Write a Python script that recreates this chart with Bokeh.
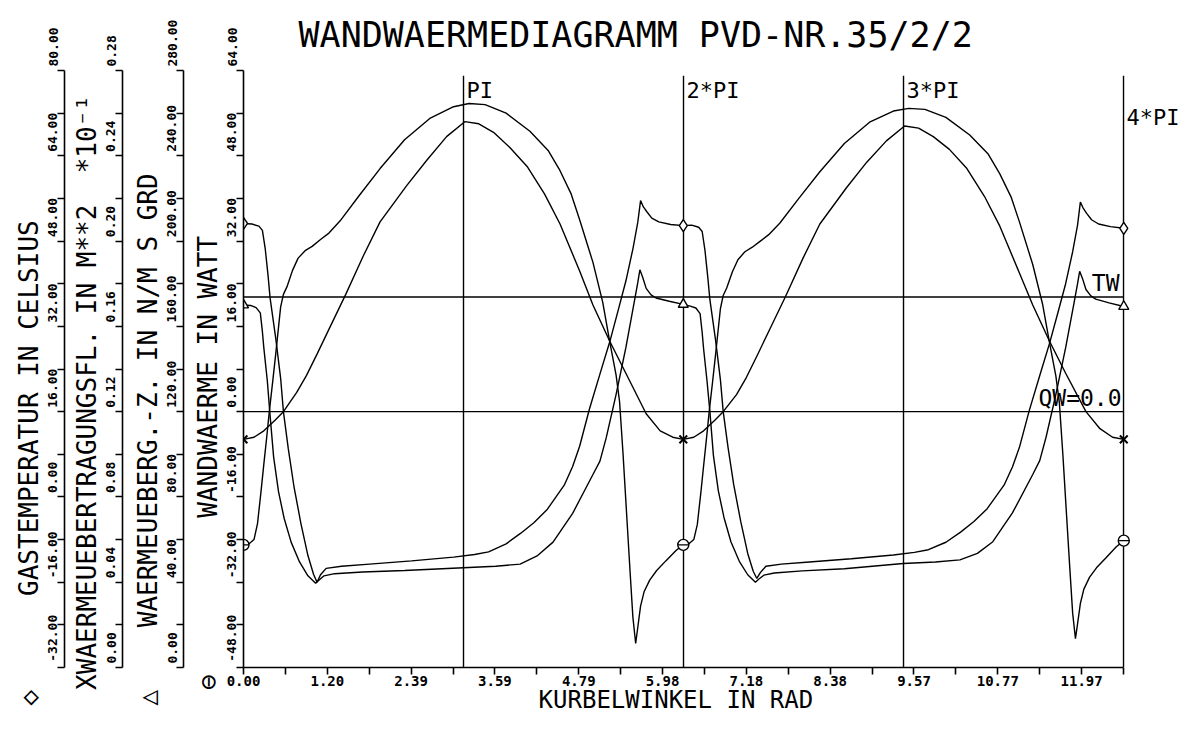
import math
from bokeh.plotting import figure
from bokeh.models import Range1d, LinearAxis, FixedTicker, Label, PrintfTickFormatter
from bokeh.embed import file_html
from bokeh.resources import INLINE

PI = math.pi
MONO = "DejaVu Sans Mono"
NB = "\u00a0"
TITLE = "WANDWAERMEDIAGRAMM PVD-NR.35/2/2"

# ---------------- axes -----------------
X_TICKS = [0.0, 1.196797, 2.393594, 3.590392, 4.787189, 5.983986,
           7.180783, 8.377580, 9.574377, 10.771174, 11.967972]
X_TICK_LABELS = ["0.00", "1.20", "2.39", "3.59", "4.79", "5.98",
                 "7.18", "8.38", "9.57", "10.77", "11.97"]
X_MINOR = [0.598399, 1.795196, 2.991993, 4.188790, 5.385587, 6.582384,
           7.779181, 8.975979, 10.172776, 11.369573, 12.566370]
X_END = 13.38          # frame continues a little past 4*PI (room for the 4*PI label)

W_TICKS = [-48, -32, -16, 0, 16, 32, 48, 64]
W_LABELS = ["-48.00", "-32.00", "-16.00", "0.00", "16.00", "32.00", "48.00", "64.00"]
W_MINOR = [-40, -24, -8, 8, 24, 40, 56]

GAS_TICKS = [-32, -16, 0, 16, 32, 48, 64, 80]
GAS_LABELS = ["-32.00", "-16.00", "0.00", "16.00", "32.00", "48.00", "64.00", "80.00"]
GAS_MINOR = [-24, -8, 8, 24, 40, 56, 72]

AREA_TICKS = [0.0, 0.04, 0.08, 0.12, 0.16, 0.20, 0.24, 0.28]
AREA_LABELS = ["0.00", "0.04", "0.08", "0.12", "0.16", "0.20", "0.24", "0.28"]
AREA_MINOR = [0.02, 0.06, 0.10, 0.14, 0.18, 0.22, 0.26]

COEF_TICKS = [0, 40, 80, 120, 160, 200, 240, 280]
COEF_LABELS = ["0.00", "40.00", "80.00", "120.00", "160.00", "200.00", "240.00", "280.00"]
COEF_MINOR = [20, 60, 100, 140, 180, 220, 260]

# ---------------- data -----------------------------------------
# Gastemperatur (deg C) - diamond
gas_x1 = [0.00, 0.12, 0.22, 0.27, 0.31, 0.35, 0.38, 0.46, 0.53, 0.57,
          0.64, 0.72, 0.82, 0.92, 1.00, 1.05, 1.10, 1.18, 1.40, 1.80,
          2.40, 3.00, 3.30, 3.50, 3.75, 3.96, 4.15, 4.34, 4.58, 4.70,
          4.80, 4.94, 5.10, 5.23, 5.35, 5.46, 5.56, 5.63, 5.67, 5.71,
          5.76, 5.83, 5.93, 6.10, 6.28]
gas_y1 = [51.3, 51.2, 50.8, 50.0, 46.6, 41.6, 37.3, 29.8, 22.3, 16.0,
          9.0, 2.0, -5.0, -11.0, -14.5, -16.0, -14.6, -13.4, -13.0, -12.6,
          -12.0, -11.3, -10.8, -10.3, -8.8, -6.8, -4.8, -2.3, 2.2, 5.7,
          9.5, 16.5, 23.5, 29.1, 35.0, 40.5, 46.5, 51.5, 55.6, 54.4,
          53.5, 52.3, 51.6, 51.1, 50.9]
gas_x2 = [6.40, 6.50, 6.55, 6.59, 6.63, 6.66, 6.74, 6.81, 6.85,
          6.92, 7.00, 7.10, 7.20, 7.28, 7.33, 7.38, 7.46, 7.68, 8.08,
          8.68, 9.28, 9.58, 9.78, 10.03, 10.24, 10.43, 10.62, 10.86, 10.98,
          11.08, 11.22, 11.38, 11.51, 11.63, 11.74, 11.84, 11.91, 11.95, 11.99,
          12.04, 12.11, 12.21, 12.38, 12.57]
gas_y2 = [51.0, 50.6, 49.8, 46.2, 41.2, 37.0, 29.5, 22.0, 16.0,
          9.2, 2.3, -4.6, -10.6, -14.0, -15.3, -14.2, -13.0, -12.6, -12.2,
          -11.6, -10.9, -10.4, -9.9, -8.5, -6.6, -4.6, -2.2, 2.2, 5.6,
          9.3, 16.2, 23.2, 28.8, 34.6, 40.0, 46.0, 51.0, 55.3, 54.2,
          53.2, 52.0, 51.2, 50.7, 50.4]

# Waermeuebergangszahl - triangle
coef_x1 = [0.00, 0.10, 0.18, 0.24, 0.27, 0.29, 0.34, 0.375, 0.43, 0.50,
           0.58, 0.68, 0.80, 0.92, 1.03, 1.08, 1.15, 1.30, 1.70, 2.30,
           3.14, 3.60, 3.95, 4.20, 4.42, 4.70, 4.99, 5.09, 5.18, 5.32,
           5.46, 5.58, 5.63, 5.66, 5.70, 5.75, 5.82, 5.89, 6.08, 6.28]
coef_y1 = [170.0, 169.8, 168.8, 166.3, 157.5, 150.0, 134.5, 120.0, 98.8, 82.5,
           70.0, 58.8, 49.5, 43.0, 39.5, 41.0, 43.0, 44.0, 44.8, 45.5,
           46.8, 47.5, 48.5, 52.5, 58.8, 72.3, 90.5, 96.8, 107.8, 128.0,
           150.0, 171.5, 180.5, 186.5, 183.0, 177.8, 174.8, 173.3, 171.8, 170.3]
coef_x2 = [6.38, 6.46, 6.52, 6.55, 6.57, 6.62, 6.66, 6.71, 6.78, 6.86,
           6.96, 7.08, 7.20, 7.31, 7.36, 7.43, 7.58, 7.98, 8.58, 9.42,
           9.88, 10.23, 10.48, 10.70, 10.98, 11.27, 11.37, 11.46, 11.60, 11.74,
           11.86, 11.91, 11.94, 11.98, 12.03, 12.10, 12.17, 12.36, 12.57]
coef_y2 = [169.5, 168.6, 166.0, 157.0, 149.5, 134.0, 120.0, 99.5, 83.0, 70.5,
           59.0, 49.8, 43.5, 40.0, 41.5, 43.3, 44.3, 45.3, 46.3, 48.8,
           49.5, 50.5, 53.5, 59.0, 72.5, 90.5, 97.0, 108.0, 128.0, 150.0,
           171.0, 180.0, 185.8, 182.5, 177.3, 174.3, 172.8, 171.0, 169.3]

# Waermeuebertragungsflaeche (m**2 *10^-1) - cross
area_x1 = [0.00, 0.15, 0.29, 0.45, 0.57, 0.76, 0.90, 1.05, 1.24, 1.46,
           1.71, 1.95, 2.33, 2.62, 2.90, 3.16, 3.36, 3.57, 3.80, 4.05,
           4.30, 4.52, 4.80, 4.99, 5.23, 5.46, 5.75, 5.95, 6.13, 6.28]
area_y1 = [0.107, 0.108, 0.111, 0.116, 0.120, 0.129, 0.137, 0.147, 0.160, 0.175,
           0.193, 0.209, 0.226, 0.238, 0.249, 0.256, 0.255, 0.251, 0.244, 0.235,
           0.222, 0.208, 0.186, 0.170, 0.153, 0.138, 0.119, 0.111, 0.108, 0.107]
area_x2 = [6.43, 6.57, 6.73, 6.85, 7.04, 7.18, 7.33, 7.52, 7.74, 7.99,
           8.23, 8.61, 8.90, 9.18, 9.44, 9.64, 9.85, 10.08, 10.33, 10.58,
           10.80, 11.08, 11.27, 11.51, 11.74, 12.03, 12.23, 12.41, 12.57]
area_y2 = [0.108, 0.111, 0.116, 0.120, 0.128, 0.136, 0.146, 0.159, 0.174, 0.192,
           0.208, 0.225, 0.237, 0.247, 0.254, 0.253, 0.249, 0.243, 0.234, 0.221,
           0.207, 0.185, 0.170, 0.153, 0.138, 0.120, 0.112, 0.108, 0.107]

# Wandwaerme (W) - circle
wall_x1 = [0.00, 0.08, 0.15, 0.20, 0.25, 0.29, 0.33, 0.37, 0.42, 0.46,
           0.53, 0.57, 0.62, 0.70, 0.78, 0.88, 0.98, 1.10, 1.22, 1.38,
           1.65, 1.95, 2.30, 2.66, 3.00, 3.22, 3.45, 3.75, 4.09, 4.35,
           4.52, 4.68, 4.80, 4.99, 5.13, 5.23, 5.32, 5.37, 5.42, 5.47,
           5.52, 5.56, 5.60, 5.63, 5.67, 5.72, 5.80, 5.90, 6.03, 6.18, 6.28]
wall_y1 = [-25.0, -24.8, -24.0, -21.0, -15.0, -9.9, -5.0, 0.2, 6.0, 10.8,
           19.6, 22.0, 23.4, 26.5, 28.8, 30.2, 31.0, 32.3, 33.5, 35.8,
           40.5, 45.6, 51.0, 55.0, 57.2, 57.8, 57.6, 56.0, 52.6, 49.0,
           45.2, 40.8, 36.0, 28.0, 20.5, 13.1, 6.9, 1.9, -8.0, -19.0,
           -30.0, -38.5, -43.5, -40.5, -36.5, -33.8, -31.6, -29.8, -28.0, -26.0, -25.0]
wall_x2 = [6.36, 6.43, 6.48, 6.53, 6.57, 6.61, 6.65, 6.70, 6.74, 6.81,
           6.85, 6.90, 6.98, 7.06, 7.16, 7.26, 7.38, 7.50, 7.66, 7.93,
           8.23, 8.58, 8.94, 9.28, 9.50, 9.73, 10.03, 10.37, 10.63, 10.80,
           10.96, 11.08, 11.27, 11.41, 11.51, 11.60, 11.65, 11.70, 11.75, 11.80,
           11.84, 11.88, 11.91, 11.95, 12.00, 12.08, 12.18, 12.31, 12.46, 12.57]
wall_y2 = [-24.8, -24.0, -21.2, -15.3, -10.2, -5.2, 0.0, 5.8, 10.6, 19.3,
           21.8, 23.2, 26.2, 28.5, 30.0, 30.8, 32.0, 33.2, 35.4, 40.0,
           45.0, 50.3, 54.3, 56.4, 56.9, 56.7, 55.2, 51.9, 48.4, 44.6,
           40.3, 35.6, 27.6, 20.2, 12.9, 6.7, 1.7, -8.0, -18.8, -29.5,
           -37.8, -42.6, -39.8, -36.0, -33.3, -31.1, -29.3, -27.5, -25.4, -24.2]

TW_GAS = 37.5          # Wandtemperatur TW (deg C, gas-temperature scale)
QW_ZERO = 0.0          # QW = 0.0 reference (W)
PI_MULTS = [1, 2, 3, 4]
PI_TEXT = ["PI", "2*PI", "3*PI", "4*PI"]
PI_LINE_TOP = 63.0
PI_LABEL_Y = [62.6, 62.6, 62.6, 57.5]

gas_x, gas_y = gas_x1 + gas_x2, gas_y1 + gas_y2
coef_x, coef_y = coef_x1 + coef_x2, coef_y1 + coef_y2
area_x, area_y = area_x1 + area_x2, area_y1 + area_y2
wall_x, wall_y = wall_x1 + wall_x2, wall_y1 + wall_y2
for a, b in [(gas_x, gas_y), (coef_x, coef_y), (area_x, area_y), (wall_x, wall_y)]:
    assert len(a) == len(b), (len(a), len(b))

def ends(xs, ys, n1):
    idx = [0, n1 - 1, len(xs) - 1]
    return [xs[i] for i in idx], [ys[i] for i in idx]

p = figure(width=1180, height=716, output_backend="svg", toolbar_location=None,
           x_range=Range1d(0, X_END), y_range=Range1d(-48, 64),
           min_border_left=243, min_border_right=0, min_border_top=70, min_border_bottom=46,
           background_fill_color="white", border_fill_color="white")
p.outline_line_color = None
p.xgrid.visible = False
p.ygrid.visible = False
p.extra_y_ranges = {"gas": Range1d(-32, 80), "area": Range1d(0, 0.28),
                    "coef": Range1d(0, 280), "pad": Range1d(0, 1)}

p.title.text = TITLE
p.title.align = "left"
p.title.offset = 55
p.title.text_font = MONO
p.title.text_font_size = "35px"
p.title.text_font_style = "normal"
p.title.text_color = "black"
p.title.vertical_align = "top"
p.title.standoff = 28

def style_axis(ax, ticks, minor, labels, title, vertical=True):
    ax.ticker = FixedTicker(ticks=ticks, minor_ticks=minor)
    ax.formatter = PrintfTickFormatter(format="%.2f")
    if vertical:
        # plotter style: each label starts at its tick and runs upward
        ax.major_label_overrides = {t: NB * (len(l) + 1) + l for t, l in zip(ticks, labels)}
        ax.major_label_orientation = "vertical"
    else:
        ax.bounds = (0, 4 * PI)
        ax.major_label_overrides = {t: l for t, l in zip(ticks, labels)}
    ax.major_tick_out = 7
    ax.major_tick_in = 0
    ax.minor_tick_out = 7
    ax.minor_tick_in = 0
    ax.axis_line_width = 1.6
    ax.major_tick_line_width = 1.6
    ax.minor_tick_line_width = 1.6
    ax.axis_line_color = "black"
    ax.major_tick_line_color = "black"
    ax.minor_tick_line_color = "black"
    ax.major_label_text_font = MONO
    ax.major_label_text_font_size = "13px"
    ax.major_label_text_font_style = "bold"
    ax.major_label_text_color = "black"
    ax.major_label_standoff = -3
    ax.axis_label = title
    ax.axis_label_text_font = MONO
    ax.axis_label_text_font_size = "26px"
    ax.axis_label_text_font_style = "normal"
    ax.axis_label_text_color = "black"
    ax.axis_label_standoff = -1

def spacer(w):
    return LinearAxis(y_range_name="pad", ticker=FixedTicker(ticks=[0.5], minor_ticks=[]),
                      major_label_overrides={0.5: NB}, major_label_text_font_size="1px",
                      major_label_standoff=0, major_tick_out=w, major_tick_in=0,
                      minor_tick_out=0, minor_tick_in=0, axis_line_color=None,
                      major_tick_line_color=None, minor_tick_line_color=None,
                      axis_label=None)

# x axis
xa = p.xaxis[0]
style_axis(xa, X_TICKS, X_MINOR, X_TICK_LABELS, "KURBELWINKEL IN RAD" + NB * 5, vertical=False)
xa.major_label_text_font_size = "14px"
xa.major_label_standoff = 1
xa.axis_label_text_font_size = "24px"
xa.axis_label_standoff = -3

# y axes (symbol key at the foot of each axis title)
style_axis(p.yaxis[0], W_TICKS, W_MINOR, W_LABELS,
           "\u2296" + NB * 10 + "WANDWAERME IN WATT" + NB * 12)
coef_ax = LinearAxis(y_range_name="coef")
style_axis(coef_ax, COEF_TICKS, COEF_MINOR, COEF_LABELS,
           "\u25b3" + NB * 4 + "WAERMEUEBERG.-Z. IN N/M S GRD" + NB * 9)
area_ax = LinearAxis(y_range_name="area")
style_axis(area_ax, AREA_TICKS, AREA_MINOR, AREA_LABELS,
           "XWAERMEUEBERTRAGUNGSFL. IN M**2" + NB * 2 + "*10\u207b\u00b9" + NB * 3)
gas_ax = LinearAxis(y_range_name="gas")
style_axis(gas_ax, GAS_TICKS, GAS_MINOR, GAS_LABELS,
           "\u25c7" + NB * 6 + "GASTEMPERATUR IN CELSIUS" + NB * 12)

p.add_layout(spacer(3), "left")
p.add_layout(coef_ax, "left")
p.add_layout(spacer(4), "left")
p.add_layout(area_ax, "left")
p.add_layout(spacer(1), "left")
p.add_layout(gas_ax, "left")

# reference lines
LW = 1.4
pi_x = [k * PI for k in PI_MULTS]
p.segment(x0=pi_x, y0=[-48] * 4, x1=pi_x, y1=[PI_LINE_TOP] * 4, line_color="black", line_width=LW)
for xk, t, yl in zip(pi_x, PI_TEXT, PI_LABEL_Y):
    p.add_layout(Label(x=xk, y=yl, text=t, x_offset=3, text_baseline="top",
                       text_font=MONO, text_font_size="22px", text_color="black"))
p.segment(x0=[0], y0=[QW_ZERO], x1=[4 * PI], y1=[QW_ZERO], line_color="black", line_width=LW)
p.segment(x0=[0], y0=[TW_GAS], x1=[4 * PI], y1=[TW_GAS], y_range_name="gas",
          line_color="black", line_width=LW)
p.add_layout(Label(x=4 * PI, y=QW_ZERO, text="QW=0.0", x_offset=-2, y_offset=1,
                   text_align="right", text_baseline="bottom", text_font=MONO,
                   text_font_size="23px", text_color="black"))
p.add_layout(Label(x=4 * PI, y=TW_GAS, y_range_name="gas", text="TW", x_offset=-4, y_offset=1,
                   text_align="right", text_baseline="bottom", text_font=MONO,
                   text_font_size="23px", text_color="black"))

# curves
p.line(gas_x, gas_y, y_range_name="gas", line_color="black", line_width=LW)
p.line(coef_x, coef_y, y_range_name="coef", line_color="black", line_width=LW)
p.line(area_x, area_y, y_range_name="area", line_color="black", line_width=LW)
p.line(wall_x, wall_y, line_color="black", line_width=LW)

mx, my = ends(gas_x, gas_y, len(gas_x1))
p.scatter(mx, my, y_range_name="gas", marker="diamond", size=12, fill_color="white",
          line_color="black", line_width=1.4)
mx, my = ends(coef_x, coef_y, len(coef_x1))
p.scatter(mx, my, y_range_name="coef", marker="triangle", size=10, fill_color="white",
          line_color="black", line_width=1.4)
mx, my = ends(area_x, area_y, len(area_x1))
p.scatter(mx, my, y_range_name="area", marker="x", size=11, line_color="black", line_width=2)
mx, my = ends(wall_x, wall_y, len(wall_x1))
p.scatter(mx, my, marker="circle", size=11, fill_color="white", line_color="black", line_width=1.4)
p.scatter(mx, my, marker="dash", size=11, line_color="black", line_width=1.4)

open("out.html", "w").write(file_html(p, INLINE))
